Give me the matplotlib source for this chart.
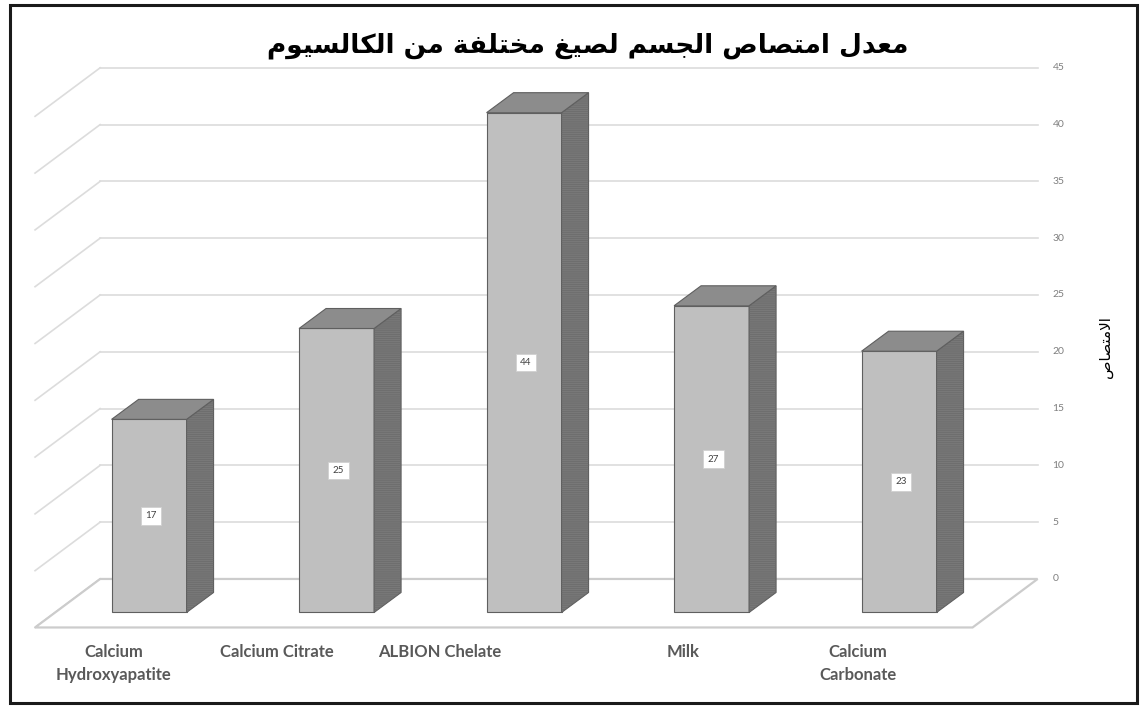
import matplotlib
matplotlib.use('Agg')
import matplotlib.pyplot as plt
from matplotlib.patches import Polygon, Rectangle

# chart data
categories = ['Calcium\nHydroxyapatite', 'Calcium Citrate', 'ALBION Chelate', 'Milk', 'Calcium\nCarbonate']
absorption = [17, 25, 44, 27, 23]
y_ticks = [0, 5, 10, 15, 20, 25, 30, 35, 40, 45]
title_text = 'معدل امتصاص الجسم لصيغ مختلفة من الكالسيوم'
ylabel_text = 'الامتصاص'

# Arabic presentation forms: isolated, final, initial, medial
FORMS = {
    'ا': ('\uFE8D', '\uFE8E', None, None),
    'ة': ('\uFE93', '\uFE94', None, None),
    'ت': ('\uFE95', '\uFE96', '\uFE97', '\uFE98'),
    'ج': ('\uFE9D', '\uFE9E', '\uFE9F', '\uFEA0'),
    'خ': ('\uFEA5', '\uFEA6', '\uFEA7', '\uFEA8'),
    'د': ('\uFEA9', '\uFEAA', None, None),
    'س': ('\uFEB1', '\uFEB2', '\uFEB3', '\uFEB4'),
    'ص': ('\uFEB9', '\uFEBA', '\uFEBB', '\uFEBC'),
    'ع': ('\uFEC9', '\uFECA', '\uFECB', '\uFECC'),
    'غ': ('\uFECD', '\uFECE', '\uFECF', '\uFED0'),
    'ف': ('\uFED1', '\uFED2', '\uFED3', '\uFED4'),
    'ك': ('\uFED9', '\uFEDA', '\uFEDB', '\uFEDC'),
    'ل': ('\uFEDD', '\uFEDE', '\uFEDF', '\uFEE0'),
    'م': ('\uFEE1', '\uFEE2', '\uFEE3', '\uFEE4'),
    'ن': ('\uFEE5', '\uFEE6', '\uFEE7', '\uFEE8'),
    'و': ('\uFEED', '\uFEEE', None, None),
    'ي': ('\uFEF1', '\uFEF2', '\uFEF3', '\uFEF4'),
}


def arabic(text):
    # matplotlib does no shaping, so pick the joined forms by hand and reverse
    res = []
    i = 0
    while i < len(text):
        c = text[i]
        prev = text[i - 1] if i > 0 else ' '
        joins_prev = prev in FORMS and FORMS[prev][2] is not None
        if c == 'ل' and i + 1 < len(text) and text[i + 1] == 'ا':
            res.append('\uFEFC' if joins_prev else '\uFEFB')
            i += 2
            continue
        if c not in FORMS:
            res.append(c)
            i += 1
            continue
        nxt = text[i + 1] if i + 1 < len(text) else ' '
        joins_next = FORMS[c][2] is not None and nxt in FORMS
        iso, fin, ini, med = FORMS[c]
        if joins_prev and joins_next:
            res.append(med)
        elif joins_prev:
            res.append(fin)
        elif joins_next:
            res.append(ini)
        else:
            res.append(iso)
        i += 1
    return ''.join(reversed(res))


# pseudo 3d geometry (data units)
bar_w = 0.40
depth_dx, depth_dy = 0.144, 1.76      # bar depth
back_dx, back_dy = 0.239, 2.95        # back wall offset
front_dx, front_dy = -0.108, -1.32    # floor front edge offset
label_shift = [-0.19, -0.32, -0.45, -0.15, -0.22]

grid_c = '#dcdcdc'
floor_c = '#cccccc'
front_c = '#bfbfbf'
side_c = '#787878'
top_c = '#8c8c8c'
edge_c = '#5f5f5f'

plt.rcParams['hatch.linewidth'] = 0.5

fig = plt.figure(figsize=(11.43, 7.08), dpi=100)
ax = fig.add_axes([0, 0, 1, 1])
ax.set_xlim(-0.795, 5.301)
ax.set_ylim(-8.41, 53.92)
ax.axis('off')

x = list(range(len(categories)))
left, right = -0.5, len(categories) - 0.5

# back wall gridlines and left side wall
for v in y_ticks:
    if v > 0:
        ax.plot([left + back_dx, right + back_dx], [v + back_dy, v + back_dy],
                color=grid_c, lw=1.2, zorder=1)
    ax.plot([left + back_dx, left + front_dx], [v + back_dy, v + front_dy],
            color=grid_c if v > 0 else floor_c, lw=1.2, zorder=1)
    ax.text(right + back_dx + 0.08, v + back_dy, str(v), ha='left', va='center',
            fontsize=7.5, color='#7f7f7f', family='Lato')

# floor
ax.add_patch(Polygon([(left + back_dx, back_dy), (right + back_dx, back_dy),
                      (right + front_dx, front_dy), (left + front_dx, front_dy)],
                     closed=True, facecolor='white', edgecolor=floor_c, lw=1.6, zorder=1))

# bars
ax.bar(x, absorption, width=bar_w, color=front_c, edgecolor=edge_c, lw=0.8, zorder=3)
for xi, v in zip(x, absorption):
    r = xi + bar_w / 2
    l = xi - bar_w / 2
    side = [(r, 0), (r + depth_dx, depth_dy), (r + depth_dx, v + depth_dy), (r, v)]
    top = [(l, v), (r, v), (r + depth_dx, v + depth_dy), (l + depth_dx, v + depth_dy)]
    ax.add_patch(Polygon(side, closed=True, facecolor=side_c, edgecolor=edge_c, lw=0.8, zorder=3))
    ax.add_patch(Polygon(side, closed=True, fill=False, edgecolor='#6a6a6a', hatch='--------',
                         lw=0, zorder=3))
    ax.add_patch(Polygon(top, closed=True, facecolor=top_c, edgecolor=edge_c, lw=0.8, zorder=3))
    ax.text(xi + 0.01, v / 2, str(v), ha='center', va='center', fontsize=7, color='#404040',
            family='Lato', zorder=4,
            bbox=dict(boxstyle='square,pad=0.45', facecolor='white', edgecolor='#d0d0d0', lw=0.6))

# category labels
for xi, name, sh in zip(x, categories, label_shift):
    ax.text(xi + sh, -2.75, name, ha='center', va='top', fontsize=12, fontweight='bold',
            color='#595959', family='Lato', linespacing=1.55)

# title and axis title
fig.text(588 / 1143, 1 - 46 / 708, arabic(title_text), ha='center', va='center',
         fontsize=19, fontweight='bold', color='black', family='DejaVu Sans')
fig.text(1105 / 1143, 1 - 347 / 708, arabic(ylabel_text), ha='center', va='center',
         rotation=90, fontsize=11, color='black', family='DejaVu Sans')

# chart border
fig.add_artist(Rectangle((10 / 1143, 5 / 708), 1127 / 1143, 698 / 708, transform=fig.transFigure,
                         fill=False, edgecolor='#1a1a1a', lw=2.2))

fig.savefig('out.png', dpi=100)
